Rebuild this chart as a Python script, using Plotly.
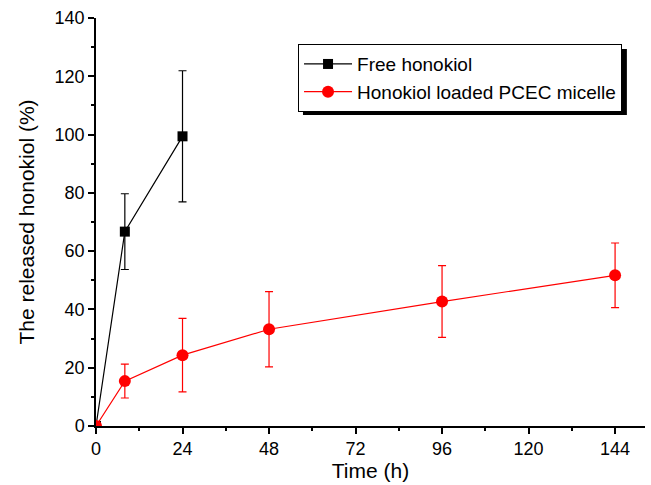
import plotly.graph_objects as go

time_free = [0, 8, 24]
free_vals = [0, 66.7, 99.4]
free_err = [0, 13.0, 22.5]

time_mic = [0, 8, 24, 48, 96, 144]
mic_vals = [0, 15.4, 24.3, 33.2, 42.7, 51.7]
mic_err = [0, 5.8, 12.6, 12.9, 12.3, 11.1]

x_ticks = [0, 24, 48, 72, 96, 120, 144]
y_ticks = [0, 20, 40, 60, 80, 100, 120, 140]

FONT = "Arial, Liberation Sans"

fig = go.Figure()
fig.add_trace(go.Scatter(
    x=time_free, y=free_vals, name="Free honokiol", mode="lines+markers",
    line=dict(color="black", width=1.2),
    marker=dict(symbol="square", size=10, color="black"),
    error_y=dict(type="data", array=free_err, color="black", thickness=1.2, width=4),
))
fig.add_trace(go.Scatter(
    x=time_mic, y=mic_vals, name="Honokiol loaded PCEC micelle", mode="lines+markers",
    line=dict(color="red", width=1.2),
    marker=dict(symbol="circle", size=12, color="red"),
    error_y=dict(type="data", array=mic_err, color="red", thickness=1.2, width=4),
))

axis_common = dict(
    showline=True, linecolor="black", linewidth=1.5, ticks="outside", ticklen=6,
    tickwidth=1.5, tickcolor="black", showgrid=False, zeroline=False, automargin=False,
    tickfont=dict(family=FONT, size=18, color="black"),
    title_font=dict(family=FONT, size=21, color="black"),
)
fig.update_xaxes(
    range=[0, 152.3], tickvals=x_ticks, title_text="Time (h)", title_standoff=4,
    minor=dict(dtick=12, tick0=0, ticks="outside", ticklen=3, tickcolor="black", tickwidth=1.5),
    **axis_common,
)
fig.update_yaxes(
    range=[0, 140], tickvals=y_ticks, title_text="The released honokiol (%)", title_standoff=14,
    minor=dict(dtick=10, tick0=0, ticks="outside", ticklen=3, tickcolor="black", tickwidth=1.5),
    **axis_common,
)

# legend drop shadow
fig.add_shape(type="rect", xref="paper", yref="paper",
              x0=0.377, x1=0.967, y0=0.762, y1=0.924,
              fillcolor="black", line=dict(width=0), layer="above")

fig.update_layout(
    width=651, height=485,
    margin=dict(l=96, r=6, t=18, b=59),
    plot_bgcolor="white", paper_bgcolor="white",
    showlegend=True,
    legend=dict(x=0.368, y=0.936, xanchor="left", yanchor="top",
                bgcolor="white", bordercolor="black", borderwidth=1,
                font=dict(family=FONT, size=19, color="black"),
                tracegroupgap=0, itemwidth=48),
)

fig.write_html("out.html", config={"displayModeBar": False},
               post_script="document.body.style.margin='0';")
